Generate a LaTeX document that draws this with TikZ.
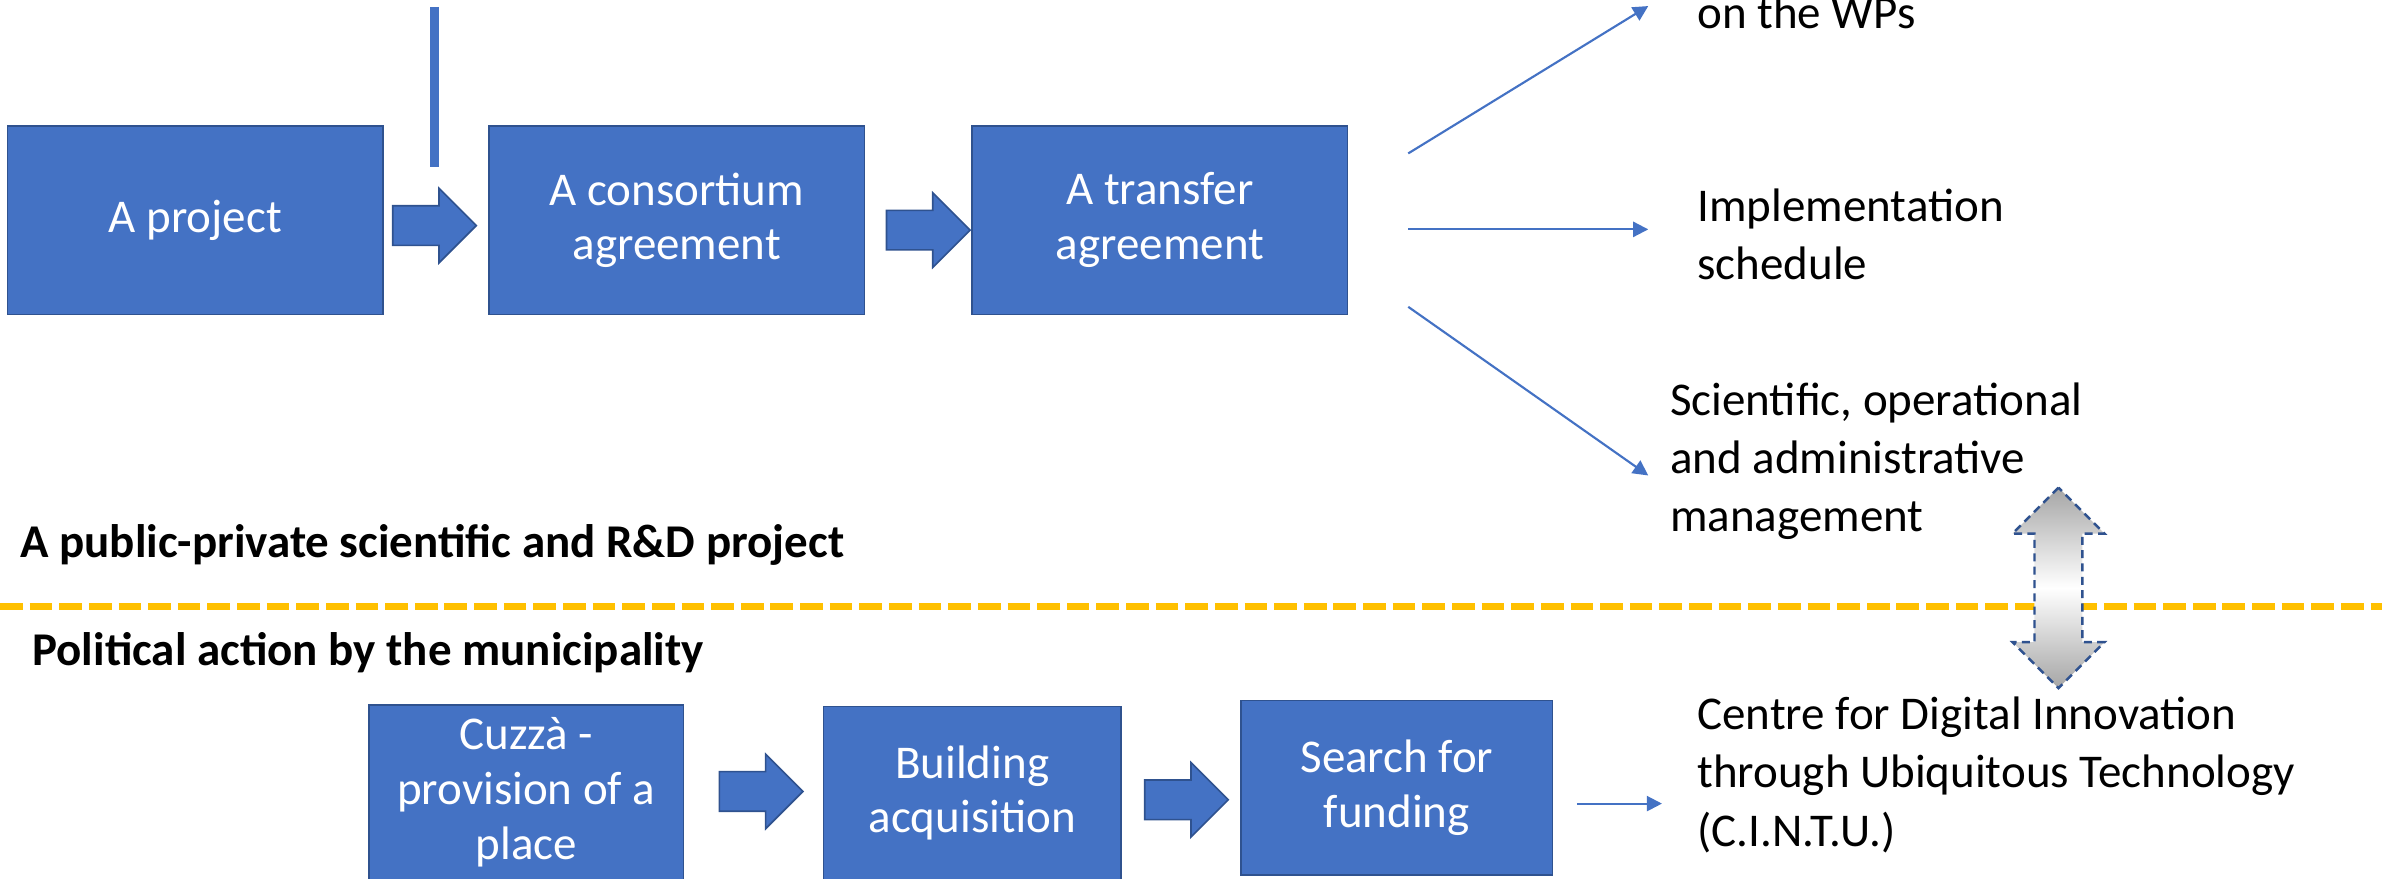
\documentclass[tikz,border=0pt]{standalone}
\usepackage{fontspec}
\setmainfont{Carlito}
\usetikzlibrary{shapes.arrows,arrows.meta}

\definecolor{boxblue}{HTML}{4472C4}
\definecolor{boxline}{HTML}{2F528F}
\definecolor{sepgold}{HTML}{FFC000}

\tikzset{
  stage/.style={rectangle, fill=boxblue, draw=boxline, line width=0.6pt, text=white, align=center, inner sep=0pt,
    font=\fontsize{17.6}{20.5}\selectfont},
  flow/.style={single arrow, fill=boxblue, draw=boxline, line width=0.6pt, inner xsep=0pt, inner ysep=0.25cm,
    minimum height=1.1cm, minimum width=0.96cm, single arrow head extend=0.23cm, anchor=tail},
  link/.style={boxblue, line width=0.8pt, -{Triangle[length=0.2cm,width=0.2cm]}},
  outcome/.style={anchor=base west, align=left, inner sep=0pt},
  heading/.style={anchor=base west, inner sep=0pt, font=\fontsize{17.6}{21.8}\selectfont\bfseries}
}

\begin{document}
\begin{tikzpicture}[font=\fontsize{17.6}{21.8}\selectfont]
\useasboundingbox (0,0) rectangle (31.36,11.56);

\node[stage, minimum width=4.94cm, minimum height=2.48cm] (proj) at (2.57,8.66) {A project};
\node[stage, minimum width=4.94cm, minimum height=2.48cm] (cons) at (8.91,8.66) {A consortium\\agreement};
\node[stage, minimum width=4.94cm, minimum height=2.48cm] (trans) at (15.27,8.66) {A transfer\\agreement};
\node[flow] (f1) at (5.16,8.59) {};
\node[flow] (f2) at (11.66,8.53) {};
\draw[boxblue, line width=3.4pt] (5.72,11.47) -- (5.72,9.36);

\coordinate (o1) at (18.54,9.54);
\coordinate (o2) at (18.54,8.54);
\coordinate (o3) at (18.54,7.52);
\coordinate (e1) at (21.70,11.48);
\coordinate (e2) at (21.70,8.54);
\coordinate (e3) at (21.70,5.30);
\draw[link] (o1) -- (e1);
\draw[link] (o2) -- (e2);
\draw[link] (o3) -- (e3);

\node[outcome] (wps) at (22.34,11.19) {on the WPs};
\node[outcome] (sched) at (22.34,7.88) {Implementation\\schedule};
\node[outcome] (mgmt) at (21.98,4.56) {Scientific, operational\\and administrative\\management};

\node[heading] (rd) at (0.26,4.22) {A public-private scientific and R\&D project};
\draw[sepgold, line width=2.6pt, dash pattern=on 8.5pt off 2.6pt] (0,3.58) -- (31.36,3.58);
\node[heading] (pol) at (0.42,2.80) {Political action by the municipality};

\node[double arrow, rotate=90, minimum height=2.64cm, minimum width=1.18cm, double arrow head extend=0.29cm,
  inner xsep=0pt, inner ysep=0.30cm, draw=boxline, line width=0.9pt, dash pattern=on 3pt off 2pt,
  top color=gray!70, bottom color=gray!70, middle color=white] (bridge) at (27.10,3.82) {};

\node[stage, minimum width=4.14cm, minimum height=2.30cm] (place) at (6.93,1.13) {Cuzzà -\\provision of a\\place};
\node[stage, minimum width=3.92cm, minimum height=2.28cm] (build) at (12.80,1.12) {Building\\acquisition};
\node[stage, minimum width=4.10cm, minimum height=2.30cm] (fund) at (18.39,1.19) {Search for\\funding};
\node[flow] (f3) at (9.46,1.14) {};
\node[flow] (f4) at (15.06,1.03) {};

\coordinate (o4) at (20.76,0.98);
\coordinate (e4) at (21.88,0.98);
\draw[link] (o4) -- (e4);
\node[outcome] (cintu) at (22.34,0.42) {Centre for Digital Innovation\\through Ubiquitous Technology\\(C.I.N.T.U.)};

\end{tikzpicture}
\end{document}
